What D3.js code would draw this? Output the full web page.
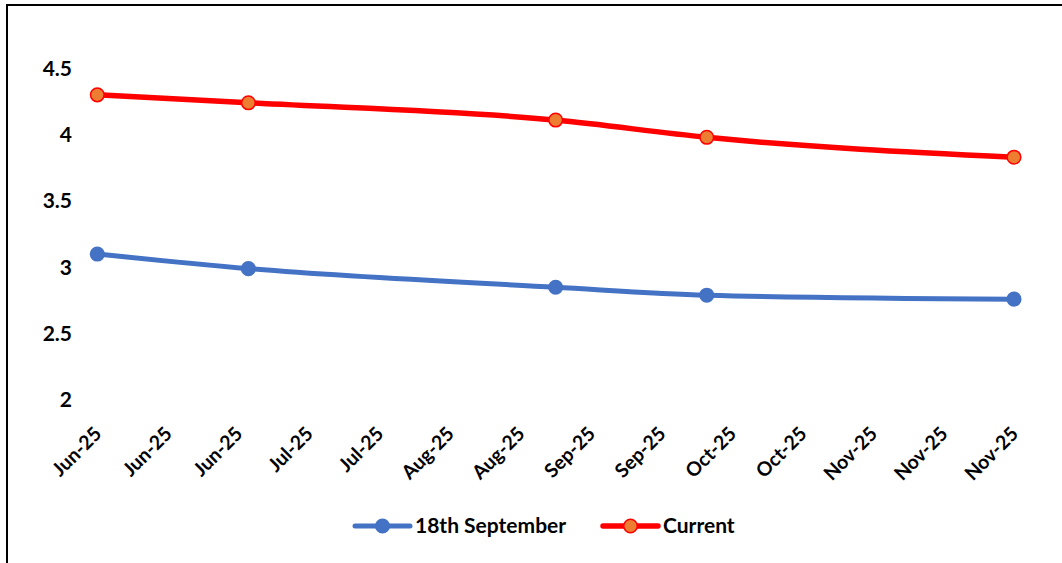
<!DOCTYPE html>
<html>
<head>
<meta charset="utf-8">
<script src="https://cdn.jsdelivr.net/npm/d3@7/dist/d3.min.js"></script>
<style>
  html, body { margin: 0; padding: 0; background: #fff; }
  svg { display: block; }
  text { font-family: Lato, "Open Sans", sans-serif; font-weight: 700; fill: #000; }
</style>
</head>
<body>
<svg id="chart" width="1062" height="563"></svg>
<script>
// ---- data ----
const dates = ["2025-06-01", "2025-07-01", "2025-08-31", "2025-09-30", "2025-11-30"];
const sept18 = [3.10, 2.99, 2.85, 2.79, 2.76];
const current = [4.30, 4.24, 4.11, 3.98, 3.83];
const seriesNames = ["18th September", "Current"];
const yTicks = [2, 2.5, 3, 3.5, 4, 4.5];
const xTickStart = "2025-06-01";
const xTickStepDays = 14;
const xTickCount = 14;

// ---- setup ----
const svg = d3.select("#chart");
const W = 1062, H = 563;
const parse = d3.utcParse("%Y-%m-%d");
const fmt = d3.utcFormat("%b-%y");

const t0 = parse(xTickStart);
const xTickDates = d3.range(xTickCount).map(i => d3.utcDay.offset(t0, i * xTickStepDays));

const x = d3.scaleUtc()
  .domain([xTickDates[0], xTickDates[xTickDates.length - 1]])
  .range([97.3, 1014]);
const y = d3.scaleLinear().domain([2, 4.5]).range([400, 68.3]);

// frame
svg.append("line").attr("x1", 7).attr("x2", W).attr("y1", 5).attr("y2", 5)
  .attr("stroke", "#000").attr("stroke-width", 2);
svg.append("line").attr("x1", 7).attr("x2", 7).attr("y1", 4).attr("y2", H)
  .attr("stroke", "#000").attr("stroke-width", 2);

// y axis labels
const yAxis = d3.axisLeft(y).tickValues(yTicks).tickSize(0).tickPadding(0)
  .tickFormat(d3.format("~g"));
const gy = svg.append("g").attr("transform", "translate(72,0)").call(yAxis);
gy.select(".domain").remove();
gy.selectAll("text")
  .style("font-family", "Lato, 'Open Sans', sans-serif")
  .style("font-weight", 700)
  .style("font-size", "21px")
  .attr("fill", "#000");

// x axis labels
const xAxis = d3.axisBottom(x).tickValues(xTickDates).tickSize(0).tickFormat(fmt);
const gx = svg.append("g").attr("transform", "translate(0,400)").call(xAxis);
gx.select(".domain").remove();
gx.selectAll("text")
  .style("font-family", "Lato, 'Open Sans', sans-serif")
  .style("font-weight", 700)
  .style("font-size", "19.5px")
  .attr("fill", "#000")
  .attr("text-anchor", "end")
  .attr("dy", 0)
  .attr("y", 0)
  .attr("transform", "translate(5,35) rotate(-45)");

// series
const series = [
  { name: seriesNames[0], values: sept18, stroke: "#4472C4", fill: "#4472C4", width: 5, mstroke: "#4472C4" },
  { name: seriesNames[1], values: current, stroke: "#FF0000", fill: "#ED7D31", width: 5.5, mstroke: "#FF0000" }
];

const line = d3.line()
  .x(d => x(d.date)).y(d => y(d.v))
  .curve(d3.curveMonotoneX);

series.forEach(s => {
  const pts = dates.map((d, i) => ({ date: parse(d), v: s.values[i] }));
  svg.append("path").datum(pts)
    .attr("d", line)
    .attr("fill", "none")
    .attr("stroke", s.stroke)
    .attr("stroke-width", s.width)
    .attr("stroke-linecap", "round")
    .attr("stroke-linejoin", "round");
  svg.append("g").selectAll("circle").data(pts).join("circle")
    .attr("cx", d => x(d.date)).attr("cy", d => y(d.v))
    .attr("r", 6.8)
    .attr("fill", s.fill)
    .attr("stroke", s.mstroke)
    .attr("stroke-width", 1.5);
});

// legend
const legendItems = [
  { s: series[0], x0: 355, tx: 415 },
  { s: series[1], x0: 603, tx: 663 }
];
const ly = 526;
legendItems.forEach(it => {
  const g = svg.append("g");
  g.append("line").attr("x1", it.x0).attr("x2", it.x0 + 55).attr("y1", ly).attr("y2", ly)
    .attr("stroke", it.s.stroke).attr("stroke-width", it.s.width).attr("stroke-linecap", "round");
  g.append("circle").attr("cx", it.x0 + 27.5).attr("cy", ly).attr("r", 6.8)
    .attr("fill", it.s.fill).attr("stroke", it.s.mstroke).attr("stroke-width", 1.5);
  g.append("text").attr("x", it.tx).attr("y", ly).attr("dy", "0.35em")
    .style("font-size", "21px").text(it.s.name);
});
</script>
</body>
</html>
